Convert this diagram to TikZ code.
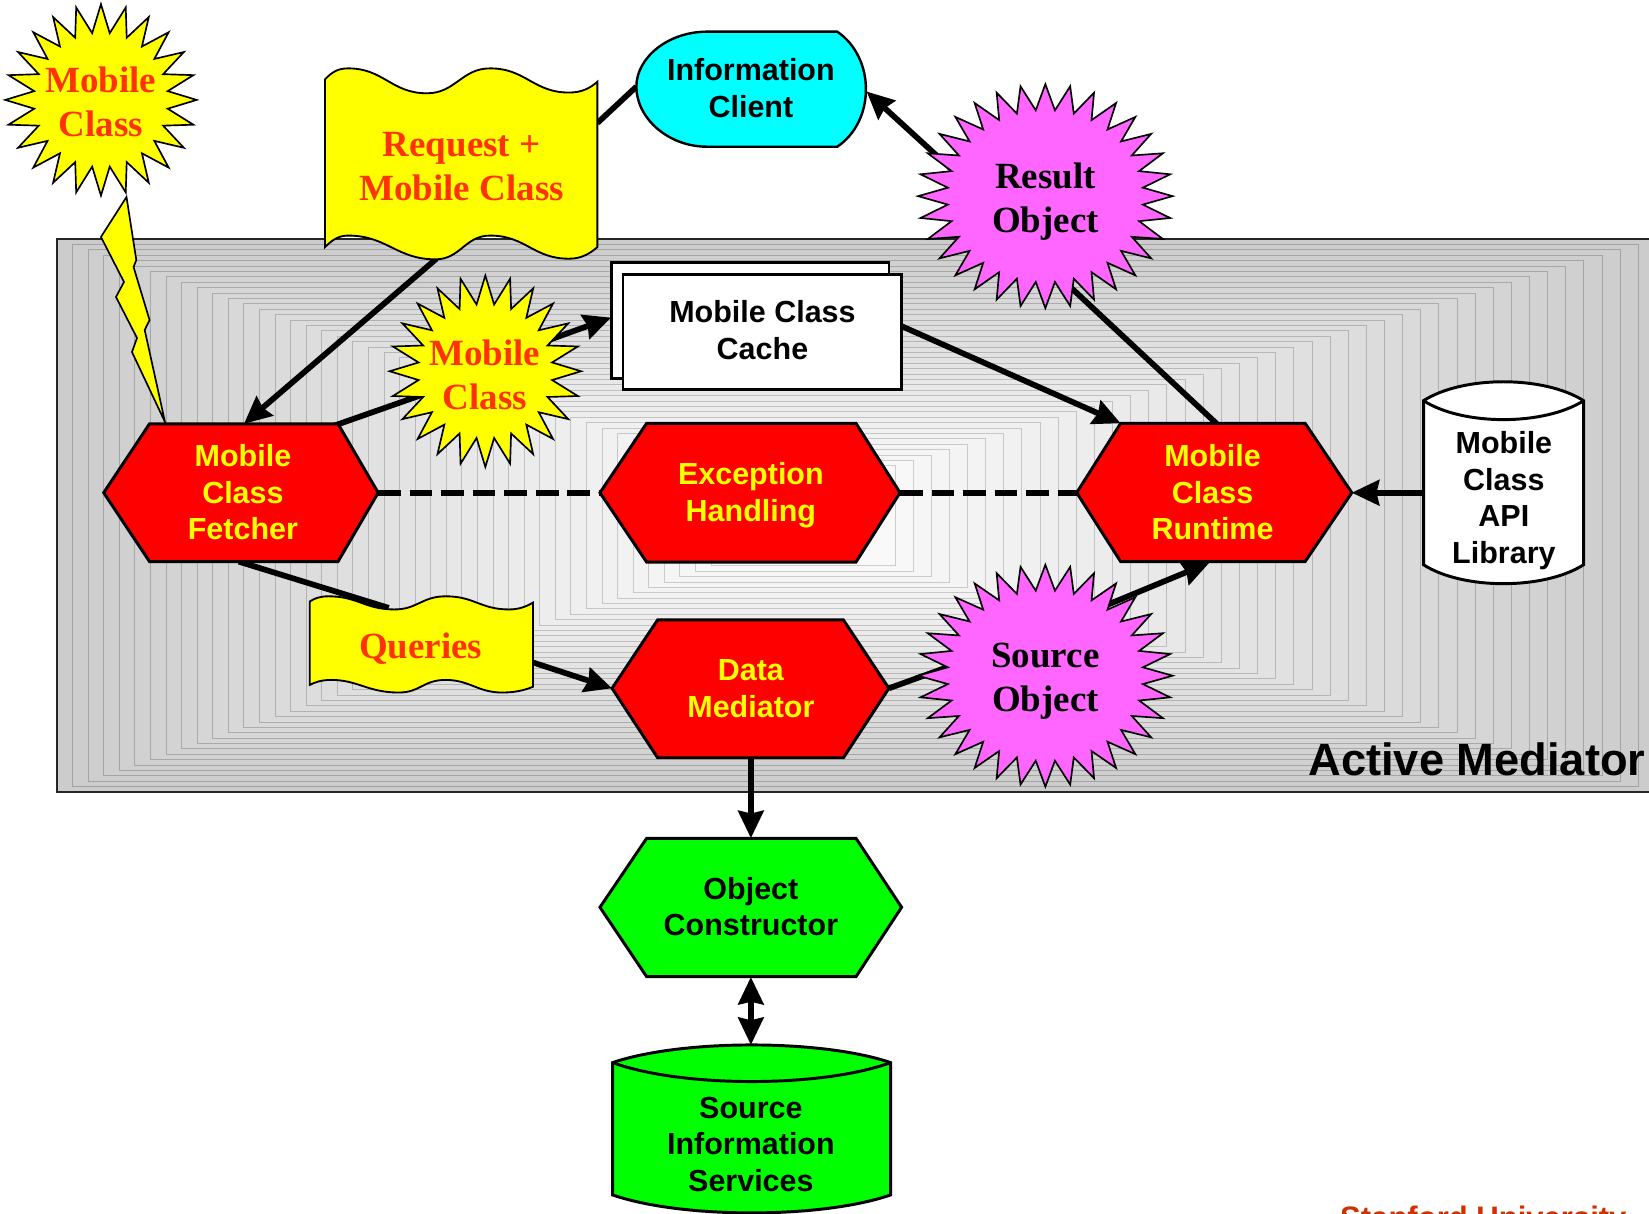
\documentclass[tikz,border=0pt]{standalone}
\usepackage{fontspec}
\setmainfont{Liberation Serif}
\setsansfont{Liberation Sans}
\usetikzlibrary{arrows.meta}
\definecolor{burstred}{RGB}{255,51,0}
\definecolor{hexred}{RGB}{255,0,0}
\definecolor{labelyellow}{RGB}{255,255,0}
\definecolor{burstpink}{RGB}{255,102,255}
\definecolor{clientcyan}{RGB}{0,255,255}
\definecolor{objgreen}{RGB}{0,255,0}
\definecolor{footred}{RGB}{204,51,0}

\begin{document}
\begin{tikzpicture}[x=0.02cm, y=-0.02cm,
  sanslbl/.style={font=\sffamily\bfseries\fontsize{16.5}{19.8}\selectfont, align=center, inner sep=0pt},
  seriflbl/.style={font=\rmfamily\bfseries\fontsize{20}{23.8}\selectfont, align=center, inner sep=0pt},
  hexshape/.style={draw=black, line width=1.6pt, line join=miter},
  burstshape/.style={draw=black, line width=0.9pt, line join=miter},
  waveshape/.style={draw=black, line width=1pt, fill=labelyellow},
  boxshape/.style={draw=black, line width=1.6pt, fill=white},
  link/.style={line width=3.1pt},
  arrowlink/.style={line width=3.1pt, -{Stealth[length=0.52cm,width=0.48cm,inset=0.05cm]}},
  dualarrow/.style={line width=3.1pt, {Stealth[length=0.52cm,width=0.48cm,inset=0.05cm]}-{Stealth[length=0.52cm,width=0.48cm,inset=0.05cm]}},
  dashlink/.style={line width=3.2pt, dash pattern=on 0.43cm off 0.17cm}
]
\useasboundingbox (0,0) rectangle (1568,1154);
\fill[white] (0,0) rectangle (1568,1154);
\begin{scope}
\clip (0,0) rectangle (1568,1154);

% ---- Active Mediator backdrop: nested rectangles, grey rim to pale centre
\foreach \i in {0,...,42}{
  \pgfmathsetmacro{\t}{\i/42}
  \pgfmathsetmacro{\xa}{54.2+\t*621.8}
  \pgfmathsetmacro{\ya}{227.3+\t*215.7}
  \pgfmathsetmacro{\xb}{1575-\t*724}
  \pgfmathsetmacro{\yb}{753-\t*215}
  \pgfmathsetmacro{\g}{80+\t*17.5}
  \pgfmathsetmacro{\h}{63+\t*17.5}
  \filldraw[fill=white!\g!black, draw=white!\h!black, line width=0.45pt] (\xa,\ya) rectangle (\xb,\yb);
}
\draw[black!85, line width=0.7pt] (1580,227.3) -- (54.2,227.3) -- (54.2,753) -- (1580,753);

% ---- anchor points for the connectors
\coordinate (reqE) at (568,117);
\coordinate (clientW) at (605.1,82.4);
\coordinate (reqS) at (415,246);
\coordinate (fetchN) at (232,403);
\coordinate (resultW) at (905,161);
\coordinate (clientE) at (824,87);
\coordinate (runN) at (1157,403);
\coordinate (resultS) at (1012.7,268.2);
\coordinate (cacheE) at (857,310);
\coordinate (runNW) at (1065.6,402.5);
\coordinate (fetchNE) at (317,405);
\coordinate (midburstW) at (404.5,374.3);
\coordinate (midburstE) at (515,325.8);
\coordinate (cacheW) at (581,302);
\coordinate (fetchE) at (359.6,468.5);
\coordinate (excW) at (570.5,468.5);
\coordinate (excE) at (855.8,468.5);
\coordinate (runW) at (1023.8,468.5);
\coordinate (libW) at (1353.6,468.5);
\coordinate (runE) at (1285.4,468.5);
\coordinate (fetchS) at (227,534);
\coordinate (queriesN) at (369.6,578);
\coordinate (queriesE) at (500,627.7);
\coordinate (medW) at (582,654.5);
\coordinate (medE) at (845.2,654.5);
\coordinate (srcobjW) at (914.4,629.5);
\coordinate (srcobjNE) at (1045.9,578);
\coordinate (runS) at (1150,535);
\coordinate (medS) at (714,720.5);
\coordinate (ocN) at (714,797);
\coordinate (ocS) at (714,929);
\coordinate (sisN) at (714,993.6);

% ---- connectors
\draw[link] (reqE) -- (clientW);
\draw[arrowlink] (reqS) -- (fetchN);
\draw[arrowlink] (resultW) -- (clientE);
\draw[link] (runN) -- (resultS);
\draw[arrowlink] (cacheE) -- (runNW);
\draw[link] (fetchNE) -- (midburstW);
\draw[arrowlink] (midburstE) -- (cacheW);
\draw[dashlink] (fetchE) -- (excW);
\draw[dashlink] (excE) -- (runW);
\draw[arrowlink] (libW) -- (runE);
\draw[link] (fetchS) -- (queriesN);
\draw[arrowlink] (queriesE) -- (medW);
\draw[link] (medE) -- (srcobjW);
\draw[arrowlink] (srcobjNE) -- (runS);
\draw[arrowlink] (medS) -- (ocN);
\draw[dualarrow] (ocS) -- (sisN);

% ---- lightning bolt under the top-left burst
\draw[burstshape, fill=labelyellow] (120.3,187.3) -- (96,225.3) -- (117.9,268.1) -- (110.3,282.4)
  -- (130.3,321.4) -- (125.5,334.7) -- (156.9,401.3) -- (137.6,313.8) -- (142.2,304.3)
  -- (127,253.9) -- (129.6,247.2) -- cycle;

% ---- yellow bursts (24 points)
\draw[burstshape, fill=labelyellow] plot[domain=0:47, samples=48, variable=\k]
  ({96+(77.5+13.5*cos(\k*180))*cos(90+\k*7.5)}, {95-(77.5+13.5*cos(\k*180))*sin(90+\k*7.5)}) -- cycle;
\draw[burstshape, fill=labelyellow] plot[domain=0:47, samples=48, variable=\k]
  ({461.5+(77.5+13.5*cos(\k*180))*cos(90+\k*7.5)}, {353-(77.5+13.5*cos(\k*180))*sin(90+\k*7.5)}) -- cycle;

% ---- magenta bursts (32 points)
\draw[burstshape, fill=burstpink] plot[domain=0:63, samples=64, variable=\k]
  ({994+121*(0.885+0.115*cos(\k*180))*cos(90+\k*5.625)}, {186.5-106.5*(0.885+0.115*cos(\k*180))*sin(90+\k*5.625)}) -- cycle;
\draw[burstshape, fill=burstpink] plot[domain=0:63, samples=64, variable=\k]
  ({994+121*(0.885+0.115*cos(\k*180))*cos(90+\k*5.625)}, {642.5-105.5*(0.885+0.115*cos(\k*180))*sin(90+\k*5.625)}) -- cycle;

% ---- Request + Mobile Class flag
\draw[waveshape] (309,75.5) .. controls (316,68) and (322,65) .. (331,65)
  .. controls (365,65) and (372,88.7) .. (406,88.7)
  .. controls (433,88.7) and (439,65) .. (466,65)
  .. controls (500,65) and (507,88) .. (541,88)
  .. controls (553,88) and (561,84) .. (568,77.7)
  -- (568,235)
  .. controls (561,241) and (553,246) .. (541,246)
  .. controls (507,246) and (500,224) .. (466,224)
  .. controls (442,224) and (438,246.6) .. (414,246.6)
  .. controls (377,246.6) and (368,224) .. (331,224)
  .. controls (322,224) and (316,228) .. (309,235) -- cycle;

% ---- Queries flag
\draw[waveshape] (294.5,572) .. controls (299,569) and (304,567) .. (312.5,567)
  .. controls (340,567) and (347,579.5) .. (375,579.5)
  .. controls (397,579.5) and (401,567) .. (424,567)
  .. controls (451,567) and (457,579.5) .. (484,579.5)
  .. controls (493,579.5) and (500,577) .. (506.8,573)
  -- (506.8,653)
  .. controls (497,657) and (488,658.5) .. (477,658.5)
  .. controls (455,658.5) and (446,646.5) .. (424,646.5)
  .. controls (402,646.5) and (400,658.5) .. (379,658.5)
  .. controls (350,658.5) and (340,646.5) .. (315,646.5)
  .. controls (305,646.5) and (299,649) .. (294.5,651.3) -- cycle;

% ---- Information Client display shape
\draw[draw=black, line width=1.3pt, fill=clientcyan] (672.4,30.1) -- (796.1,30.1)
  .. controls (832.5,55) and (832.5,115) .. (796.1,139.5) -- (672.4,139.5)
  .. controls (635,139.5) and (605.1,112) .. (605.1,82.4)
  .. controls (605.1,55) and (635,30.1) .. (672.4,30.1) -- cycle;

% ---- Mobile Class Cache (stacked sheets)
\draw[boxshape] (581.5,250) rectangle (845.3,359.5);
\draw[boxshape] (592.4,260.6) rectangle (857.3,370);

% ---- hexagons
\draw[hexshape, fill=hexred] (98.6,468.5) -- (142.2,403) -- (321.4,403) -- (359.6,468.5) -- (321.4,534) -- (142.2,534) -- cycle;
\draw[hexshape, fill=hexred] (570.5,468.5) -- (614.9,402.5) -- (813.9,402.5) -- (855.8,468.5) -- (813.9,534.5) -- (614.9,534.5) -- cycle;
\draw[hexshape, fill=hexred] (1023.8,468.5) -- (1065.6,402.5) -- (1241,402.5) -- (1285.4,468.5) -- (1241,534) -- (1065.6,534) -- cycle;
\draw[hexshape, fill=hexred] (582,654.5) -- (625.3,589.5) -- (802,589.5) -- (845.2,654.5) -- (802,720.5) -- (625.3,720.5) -- cycle;
\draw[hexshape, fill=objgreen] (570.5,862.7) -- (614.9,797.1) -- (813.9,797.1) -- (857.3,862.7) -- (813.9,928.7) -- (614.9,928.7) -- cycle;

% ---- Mobile Class API Library cylinder
\draw[boxshape] (1353.6,381) .. controls (1391,357) and (1468,357) .. (1505.8,381)
  -- (1505.8,537) .. controls (1468,561) and (1391,561) .. (1353.6,537) -- cycle;
\draw[draw=black, line width=1.6pt] (1353.6,381) .. controls (1391,405) and (1468,405) .. (1505.8,381);

% ---- Source Information Services cylinder
\draw[boxshape, fill=objgreen] (582.5,1010.4) .. controls (648.6,988) and (780.9,988) .. (846.9,1010.4)
  -- (846.9,1136.2) .. controls (780.9,1159) and (648.6,1159) .. (582.5,1136.2) -- cycle;
\draw[draw=black, line width=1.6pt] (582.5,1010.4) .. controls (648.6,1034.4) and (780.9,1034.4) .. (846.9,1010.4);

% ---- labels
\node[seriflbl, text=burstred] (burstA) at (96,97) {Mobile\\Class};
\node[seriflbl, text=burstred] (request) at (439,158.5) {Request +\\Mobile Class};
\node[seriflbl, text=burstred] (burstB) at (461,356) {Mobile\\Class};
\node[seriflbl] (result) at (994,192) {Result\\Object};
\node[seriflbl] (srcobj) at (994,648) {Source\\Object};
\node[seriflbl, text=burstred] (queries) at (400,617) {Queries};
\node[sanslbl] (client) at (714,84) {Information\\Client};
\node[sanslbl] (cache) at (725,314) {Mobile Class\\Cache};
\node[sanslbl, text=labelyellow] (fetcher) at (231,468) {Mobile\\Class\\Fetcher};
\node[sanslbl, text=labelyellow] (exception) at (714,471) {Exception\\Handling};
\node[sanslbl, text=labelyellow] (runtime) at (1153,468) {Mobile\\Class\\Runtime};
\node[sanslbl] (library) at (1430,476) {Mobile\\Class\\API\\Library};
\node[sanslbl, text=labelyellow] (mediator) at (714,655) {Data\\Mediator};
\node[sanslbl] (constructor) at (714,862) {Object\\Constructor};
\node[sanslbl] (sources) at (714,1088) {Source\\Information\\Services};
\node[anchor=base east, inner sep=0pt, font=\sffamily\bfseries\fontsize{24.5}{29}\selectfont] (active) at (1565,737) {Active Mediator};
\node[anchor=base west, inner sep=0pt, text=footred, font=\sffamily\bfseries\fontsize{16.8}{20}\selectfont] (footer) at (1274,1168.6) {Stanford University};
\end{scope}
\end{tikzpicture}
\end{document}
